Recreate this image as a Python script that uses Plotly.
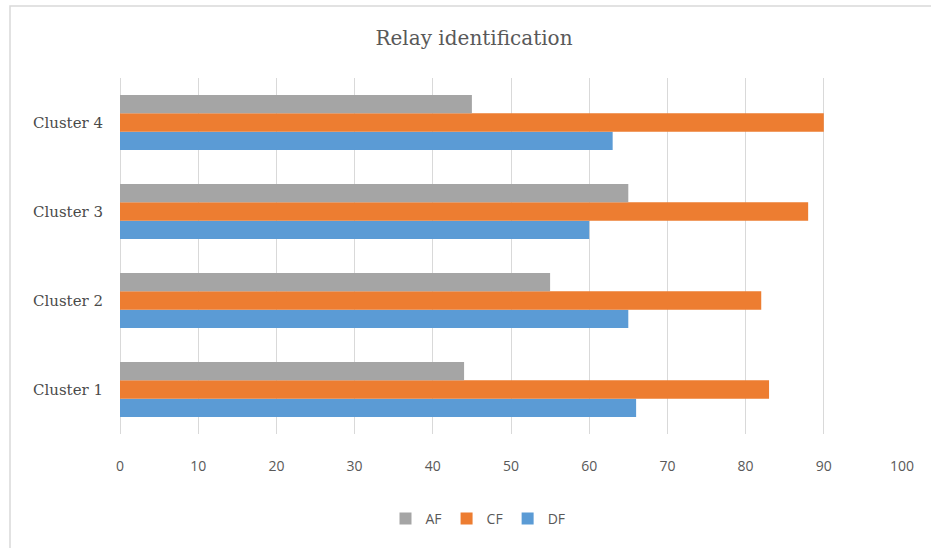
import plotly.graph_objects as go

# Chart data
clusters = ["Cluster 1", "Cluster 2", "Cluster 3", "Cluster 4"]
af_values = [44, 55, 65, 45]
cf_values = [83, 82, 88, 90]
df_values = [66, 65, 60, 63]
x_ticks = [0, 10, 20, 30, 40, 50, 60, 70, 80, 90, 100]

series = [
    ("DF", df_values, "#5B9BD5"),
    ("CF", cf_values, "#ED7D31"),
    ("AF", af_values, "#A5A5A5"),
]

W, H = 931, 548
L, R, T, B = 120, 29, 78, 114
plot_w = W - L - R
plot_h = H - T - B

fig = go.Figure()
for name, vals, color in series:
    fig.add_trace(go.Bar(
        y=clusters, x=vals, name=name, orientation="h",
        marker=dict(color=color, line=dict(width=0)),
    ))

text_color = "#595959"
grid_color = "#D9D9D9"

# light chart-area border
fig.add_shape(
    type="rect", xref="paper", yref="paper",
    x0=(10 - L) / plot_w, x1=(W + 5 - L) / plot_w,
    y0=(T + plot_h - (H + 5)) / plot_h, y1=(T + plot_h - 6) / plot_h,
    line=dict(color=grid_color, width=1.5), fillcolor="rgba(0,0,0,0)", layer="below",
)

fig.update_layout(
    width=W, height=H,
    margin=dict(l=L, r=R, t=T, b=B, pad=0),
    paper_bgcolor="white", plot_bgcolor="white",
    barmode="group", bargap=0.38, bargroupgap=0,
    title=dict(
        text="Relay identification",
        font=dict(family="DejaVu Serif", size=20, color=text_color),
        x=474 / W, xanchor="center", y=1 - 38 / H, yanchor="middle",
    ),
    xaxis=dict(
        range=[0, 100], tickvals=x_ticks, showgrid=True, gridcolor=grid_color, gridwidth=1,
        zeroline=True, zerolinecolor=grid_color, zerolinewidth=1, showline=False,
        ticks="", ticklabelstandoff=22,
        tickfont=dict(family="Open Sans", size=14, color=text_color),
        fixedrange=True,
    ),
    yaxis=dict(
        showgrid=False, zeroline=False, showline=False, ticks="",
        ticklabelstandoff=16,
        tickfont=dict(family="DejaVu Serif", size=15, color="#4A4A4A"),
    ),
    legend=dict(
        orientation="h", traceorder="reversed",
        x=(478 - L) / plot_w, xanchor="center",
        y=(T + plot_h - 519) / plot_h, yanchor="middle",
        font=dict(family="Open Sans", size=14, color=text_color),
        itemwidth=30,
    ),
    showlegend=True,
)

fig.write_html("out.html")
